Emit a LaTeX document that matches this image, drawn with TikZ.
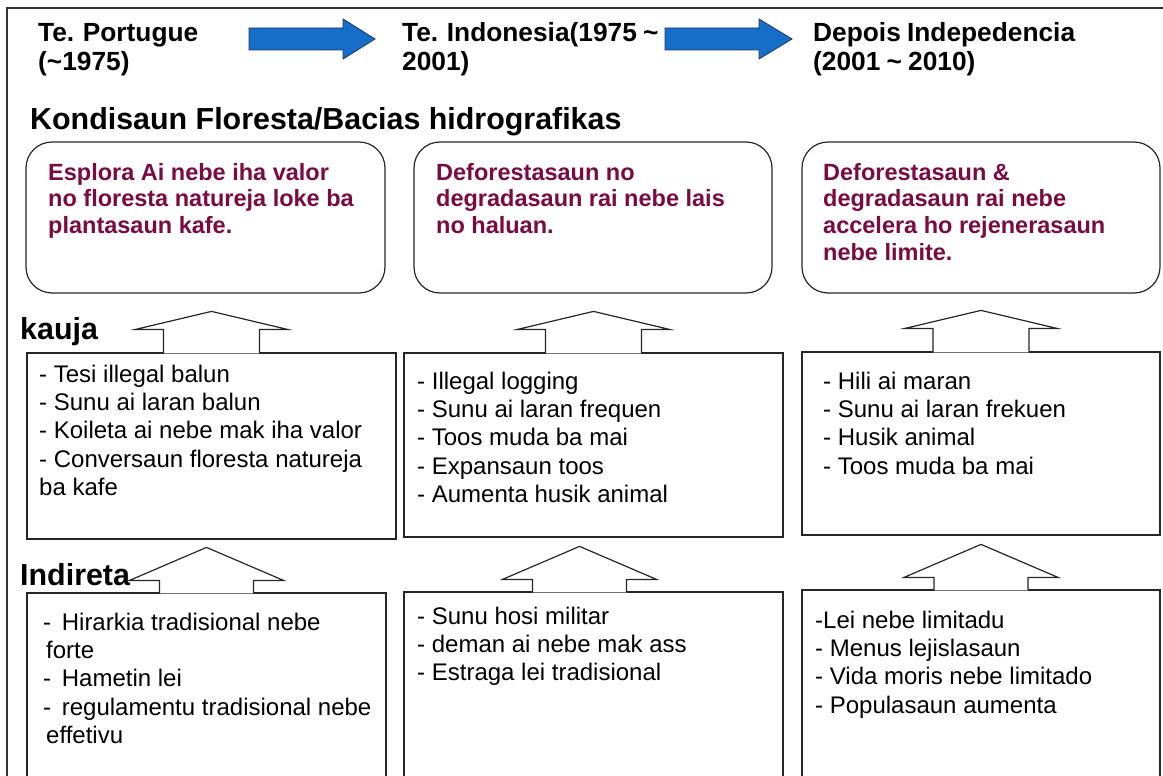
\documentclass[tikz,border=0pt]{standalone}
\usepackage{fontspec}
\setmainfont{Liberation Sans}
\newfontfamily\hdrfont[WordSpace=0.85]{Liberation Sans}
\definecolor{kondred}{RGB}{122,10,64}
\definecolor{arwblue}{RGB}{22,110,200}
\definecolor{arwline}{RGB}{25,55,110}
\begin{document}
\begin{tikzpicture}[x=1pt,y=-1pt,
  frame/.style={draw=black!80, line width=1.3pt},
  roundbox/.style={draw=black!85, line width=1.2pt, rounded corners=26pt, inner sep=0pt},
  sqbox/.style={draw=black!85, line width=1.2pt, inner sep=0pt},
  uparw/.style={draw=black!85, line width=1.2pt, fill=white, line join=miter},
  bluearw/.style={draw=arwline, line width=0.8pt, fill=arwblue},
  hdr/.style={anchor=base west, inner sep=0pt, align=left, font=\hdrfont\bfseries\fontsize{26.3}{30}\selectfont},
  lbl/.style={anchor=base west, inner sep=0pt, font=\bfseries\fontsize{30.4}{32}\selectfont},
  kond/.style={anchor=base west, inner sep=0pt, align=left, text=kondred, font=\bfseries\fontsize{23.5}{26.7}\selectfont},
  body/.style={anchor=base west, inner sep=0pt, align=left, font=\fontsize{24}{28.4}\selectfont}]
\useasboundingbox (0,0) rectangle (1163,776);
\clip (0,0) rectangle (1163,776);

% frame
\draw[frame] (7,790) -- (7,8) -- (1170,8);

% periods (base = last line)
\node[hdr] (tport) at (38,71) {Te. Portugue\\(\textasciitilde1975)};
\node[hdr] (tindo) at (402,71) {Te. Indonesia(1975 \textasciitilde\\2001)};
\node[hdr] (tdep) at (813,71) {Depois Indepedencia\\(2001 \textasciitilde{} 2010)};
\coordinate (b1) at (249,39);
\coordinate (b2) at (665,39);
\draw[bluearw] (b1) ++(0,-11) -- ++(94,0) -- ++(0,-9) -- ++(32,20) -- ++(-32,20) -- ++(0,-9) -- ++(-94,0) -- cycle;
\draw[bluearw] (b2) ++(0,-11) -- ++(94,0) -- ++(0,-9) -- ++(33,20) -- ++(-33,20) -- ++(0,-9) -- ++(-94,0) -- cycle;

% kondisaun
\node[lbl] (kondlbl) at (30,129) {Kondisaun Floresta/Bacias hidrografikas};
\node[roundbox, minimum width=359, minimum height=151] (rA) at (205.5,217.5) {};
\node[roundbox, minimum width=358, minimum height=151] (rB) at (593,217.5) {};
\node[roundbox, minimum width=358, minimum height=151] (rC) at (981,217.5) {};
\node[kond] (tA) at (48,233.4) {Esplora Ai nebe iha valor\\no floresta natureja loke ba\\plantasaun kafe.};
\node[kond] (tB) at (436,233.4) {Deforestasaun no\\degradasaun rai nebe lais\\no haluan.};
\node[kond] (tC) at (823,260.1) {Deforestasaun \&\\degradasaun rai nebe\\accelera ho rejenerasaun\\nebe limite.};

% kauja
\node[lbl] (kaujalbl) at (20,339) {kauja};
\node[sqbox, minimum width=369, minimum height=186] (kA) at (211.5,446) {};
\node[sqbox, minimum width=379, minimum height=184] (kB) at (593.5,445) {};
\node[sqbox, minimum width=358, minimum height=183] (kC) at (981,443.5) {};
\draw[uparw] (kA.north) ++(-48,1) -- ++(0,-24) -- ++(-28,0) -- ++(76,-18) -- ++(76,18) -- ++(-28,0) -- ++(0,24);
\draw[uparw] (kB.north) ++(-48,1) -- ++(0,-24) -- ++(-28,0) -- ++(76,-18) -- ++(76,18) -- ++(-28,0) -- ++(0,24);
\draw[uparw] (kC.north) ++(-48,1) -- ++(0,-24) -- ++(-28,0) -- ++(76,-18) -- ++(76,18) -- ++(-28,0) -- ++(0,24);
\node[body] (kAtxt) at (39,495.6) {- Tesi illegal balun\\- Sunu ai laran balun\\- Koileta ai nebe mak iha valor\\- Conversaun floresta natureja\\ba kafe};
\node[body] (kBtxt) at (417,502.6) {- Illegal logging\\- Sunu ai laran frequen\\- Toos muda ba mai\\- Expansaun toos\\- Aumenta husik animal};
\node[body] (kCtxt) at (823,474.2) {- Hili ai maran\\- Sunu ai laran frekuen\\- Husik animal\\- Toos muda ba mai};

% indireta
\node[lbl] (indlbl) at (20,585) {Indireta};
\node[sqbox, minimum width=359, minimum height=200] (iA) at (206.5,693) {};
\node[sqbox, minimum width=379, minimum height=200] (iB) at (593.5,692) {};
\node[sqbox, minimum width=358, minimum height=200] (iC) at (981,690) {};
\draw[uparw] (iA.north) ++(-47,1) -- ++(0,-13) -- ++(-30,0) -- ++(77,-33) -- ++(77,33) -- ++(-30,0) -- ++(0,13);
\draw[uparw] (iB.north) ++(-61,1) -- ++(0,-13) -- ++(-30,0) -- ++(77,-33) -- ++(77,33) -- ++(-30,0) -- ++(0,13);
\draw[uparw] (iC.north) ++(-47,1) -- ++(0,-13) -- ++(-30,0) -- ++(77,-33) -- ++(77,33) -- ++(-30,0) -- ++(0,13);
\node[body] (iAtxt) at (43,743.6) {-\kern4pt\ Hirarkia tradisional nebe\\\kern3pt forte\\-\kern4pt\ Hametin lei\\-\kern4pt\ regulamentu tradisional nebe\\\kern3pt effetivu};
\node[body] (iBtxt) at (417,680.8) {- Sunu hosi militar\\- deman ai nebe mak ass\\- Estraga lei tradisional};
\node[body] (iCtxt) at (815,713.2) {-Lei nebe limitadu\\- Menus lejislasaun\\- Vida moris nebe limitado\\- Populasaun aumenta};
\end{tikzpicture}
\end{document}
